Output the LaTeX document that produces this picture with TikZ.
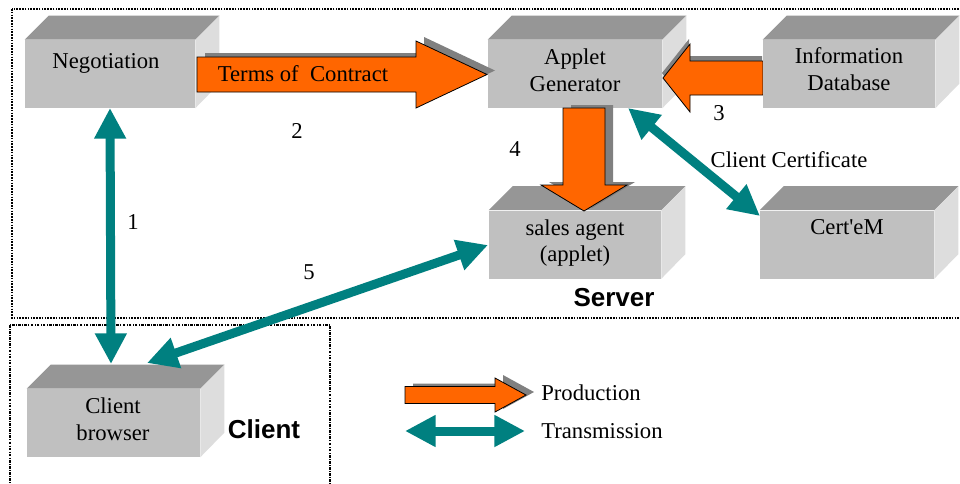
\documentclass[tikz,border=0pt]{standalone}
\usepackage{fontspec}
\setmainfont{Liberation Serif}
\newfontfamily\boldsans{Liberation Sans}
\newfontfamily\plainserif{Liberation Serif}[Ligatures=ResetAll]
\usetikzlibrary{arrows.meta,calc}
\definecolor{frontc}{HTML}{C0C0C0}
\definecolor{topc}{HTML}{969696}
\definecolor{sidec}{HTML}{DDDDDD}
\definecolor{tealc}{HTML}{008080}
\definecolor{orangec}{HTML}{FF6600}
\definecolor{shadc}{HTML}{808080}
\newcommand\cubefaces[1]{%
  \fill[topc] (#1.north west) -- ++(24,-24) -- ($(#1.north east)+(24,-24)$) -- (#1.north east) -- cycle;
  \fill[sidec] (#1.north east) -- ++(24,-24) -- ++(0,68) -- (#1.south east) -- cycle;}
\tikzset{
  frontbox/.style={fill=frontc, inner sep=0pt, minimum height=51pt},
  lbl/.style={font=\fontsize{17}{20}\selectfont, align=center, inner sep=0pt},
  numlbl/.style={font=\fontsize{17}{20}\selectfont, inner sep=0pt},
  grp/.style={font=\boldsans\bfseries\fontsize{19.5}{22}\selectfont, inner sep=0pt},
  tealarr/.style={draw=tealc, line width=6.75pt,
    {Triangle[length=23pt,width=22.5pt]}-{Triangle[length=23pt,width=22.5pt]}},
  pics/blockarrow/.style args={#1/#2/#3/#4/#5/#6}{code={
    \fill[shadc, shift={(#5,#6)}] (0,-#2) -- ({#1-#3},-#2) -- ({#1-#3},-#4) -- (#1,0)
      -- ({#1-#3},#4) -- ({#1-#3},#2) -- (0,#2) -- cycle;
    \filldraw[fill=orangec, draw=black, line width=0.6pt] (0,-#2) -- ({#1-#3},-#2) -- ({#1-#3},-#4) -- (#1,0)
      -- ({#1-#3},#4) -- ({#1-#3},#2) -- (0,#2) -- cycle;
  }}
}
\begin{document}
\begin{tikzpicture}[x=0.75pt,y=-0.75pt]
\useasboundingbox (0,0) rectangle (960,483);
\clip (0,0) rectangle (960,483);
\fill[white] (0,0) rectangle (960,483);
% group frames
\draw[line width=1.4pt, dash pattern=on 1.2pt off 0.9pt] (12,9) rectangle (966,318);
\draw[line width=0.8pt, dash pattern=on 2pt off 1pt on 0.6pt off 1pt] (10,325) rectangle (330,495);
% boxes
\node[frontbox, minimum width=127.5pt] (neg) at (110,74) {};
\cubefaces{neg}
\node[frontbox, minimum width=130.5pt] (gen) at (575,74) {};
\cubefaces{gen}
\node[frontbox, minimum width=129pt] (sales) at (575,244.5) {};
\cubefaces{sales}
\node[frontbox, minimum width=130.5pt] (cert) at (847,244.5) {};
\cubefaces{cert}
\node[frontbox, minimum width=129.75pt] (client) at (113.5,423) {};
\cubefaces{client}
% production arrows
\pic at (197,74.5) {blockarrow=290/17.5/71/33.5/8/-4};
\pic[rotate=-90] at (584,108) {blockarrow=103/21/26/43/-3/-8};
\pic[rotate=180] at (763,78) {blockarrow=100/17/27/34/1/5};
% info box drawn after its arrow
\node[frontbox, minimum width=129pt] (info) at (849,74) {};
\cubefaces{info}
% labels
\node[lbl] at (106,63) {Negotiation};
\node[lbl] at (575,70) {Applet\\Generator};
\node[lbl] at (849,69) {Information\\Database};
\node[lbl] at (575,243) {sales agent\\(applet)};
\node[lbl, font=\plainserif\fontsize{17}{20}\selectfont] at (847,227) {Cert'eM};
\node[lbl] at (113,419) {Client\\browser};
\node[lbl] at (303,74) {Terms of\ \ Contract};
% transmission arrows
\coordinate (a1) at (110,108);
\coordinate (b1) at (111,364);
\draw[tealarr] (a1) -- (b1);
\coordinate (a5) at (488,245);
\coordinate (b5) at (147,363);
\draw[tealarr] (a5) -- (b5);
\coordinate (ac) at (628,108);
\coordinate (bc) at (760,216);
\draw[tealarr] (ac) -- (bc);
% numbers
\node[numlbl] at (133,222) {1};
\node[numlbl] at (297,131) {2};
\node[numlbl] at (719,113) {3};
\node[numlbl] at (515,149) {4};
\node[numlbl] at (309,272) {5};
\node[lbl] at (789,160) {Client Certificate};
% groups
\node[grp] at (614,298) {Server};
\node[grp] at (264,429) {Client};
% legend
\pic at (405,395) {blockarrow=121/8.5/31/17/8/-3};
\coordinate (la) at (405,431);
\coordinate (lb) at (525,431);
\draw[tealarr] (la) -- (lb);
\node[lbl, anchor=west] at (541,393) {Production};
\node[lbl, anchor=west] at (541,431) {Transmission};
\end{tikzpicture}
\end{document}
